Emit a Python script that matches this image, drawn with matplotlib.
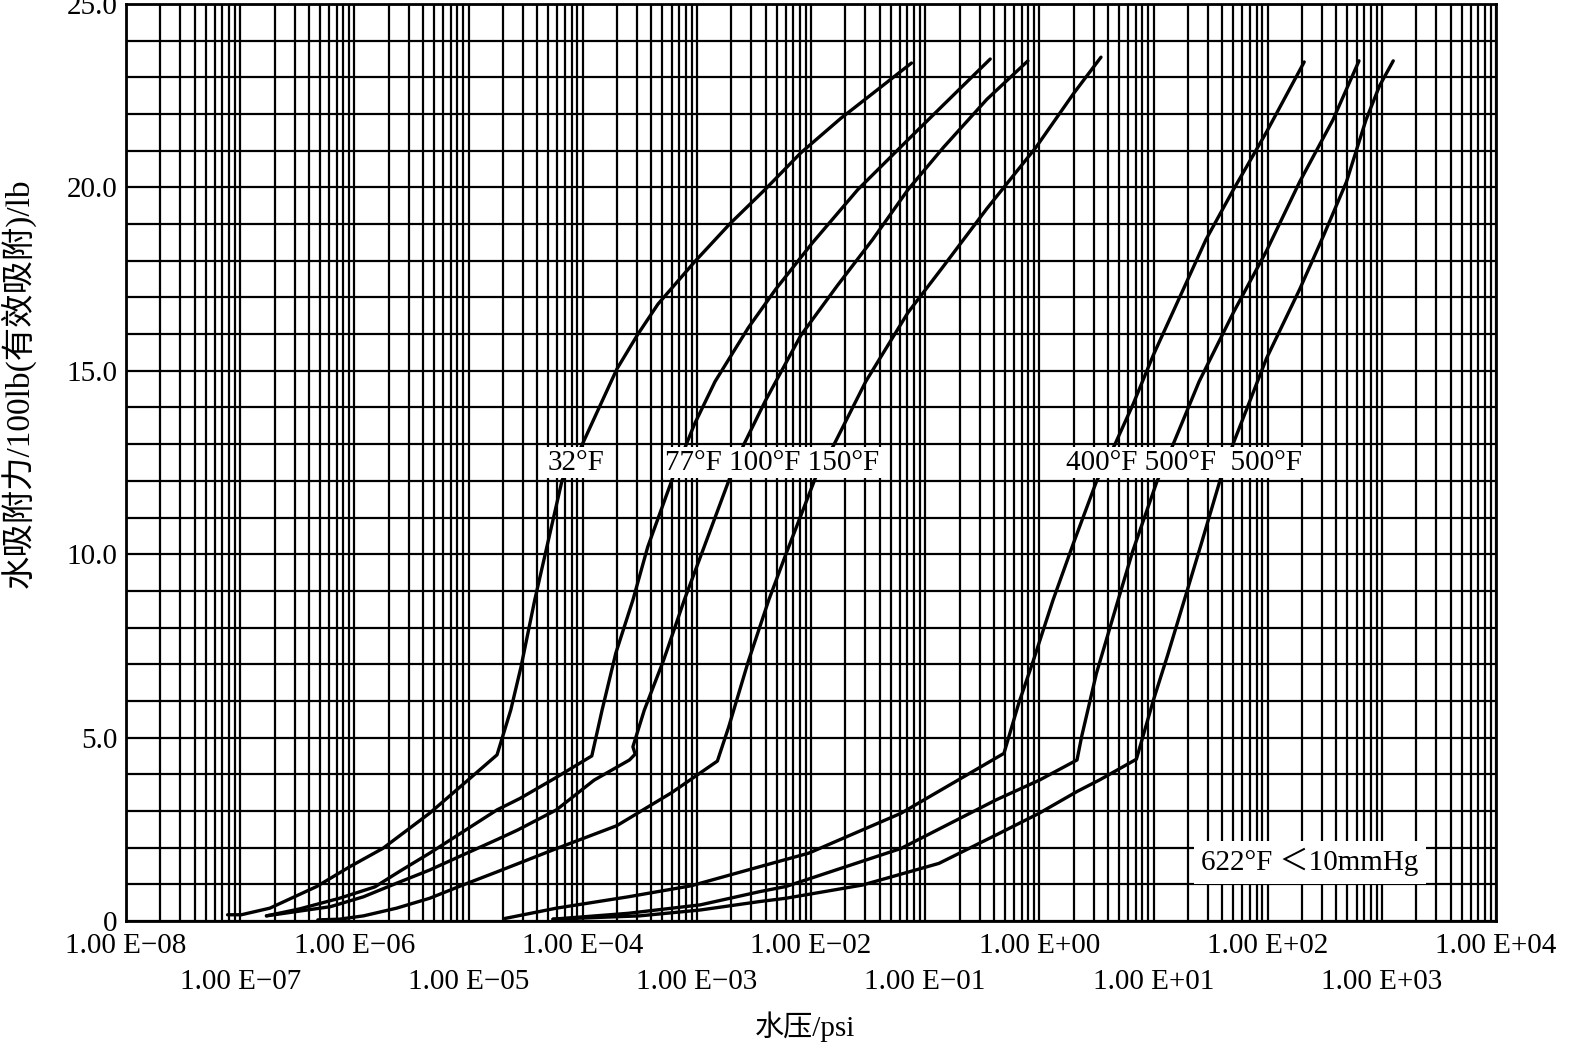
import numpy as np
import matplotlib
matplotlib.use("Agg")
import matplotlib.pyplot as plt
from matplotlib.ticker import LogLocator, MultipleLocator, NullFormatter
import matplotlib.transforms as mtransforms

plt.rcParams['font.family'] = ['Liberation Serif', 'Noto Sans CJK SC', 'DejaVu Sans']
plt.rcParams['axes.unicode_minus'] = True

# ---- data: log10(water pressure / psi) and loading (lb water / 100 lb) ----
log_p_32F = [-7.11, -6.99, -6.74, -6.33, -6.04, -5.75, -5.34, -5.02, -4.75, -4.63, -4.54,
             -4.42, -4.18, -4.02, -3.87, -3.70, -3.52, -3.34, -3.02, -2.71, -2.40, -2.09,
             -1.74, -1.46, -1.12]
w_32F = [0.17, 0.17, 0.35, 0.94, 1.48, 1.98, 2.94, 3.80, 4.53, 5.75, 6.93,
         8.75, 12.02, 12.88, 13.90, 15.05, 15.98, 16.82, 17.97, 19.01, 19.95, 20.94,
         21.88, 22.56, 23.39]

log_p_77F = [-6.77, -6.48, -6.13, -5.82, -5.60, -5.34, -5.05, -4.75, -4.55, -4.25, -3.92,
             -3.83, -3.71, -3.56, -3.43, -3.21, -3.02, -2.84, -2.55, -2.31, -1.99, -1.59,
             -1.15, -0.84, -0.43]
w_77F = [0.14, 0.33, 0.62, 0.93, 1.36, 1.85, 2.43, 3.03, 3.34, 3.88, 4.50,
         5.75, 7.30, 8.75, 10.20, 12.09, 13.55, 14.71, 16.17, 17.22, 18.48, 19.94,
         21.30, 22.25, 23.50]

log_p_100F = [-6.77, -6.48, -6.21, -5.92, -5.63, -5.34, -5.05, -4.75, -4.57, -4.23, -3.90,
              -3.59, -3.54, -3.56, -3.46, -3.29, -3.11, -2.96, -2.71, -2.59, -2.40, -2.09,
              -1.77, -1.46, -1.15, -0.84, -0.46, -0.10]
w_100F = [0.14, 0.27, 0.39, 0.66, 1.03, 1.39, 1.80, 2.22, 2.48, 3.03, 3.84,
          4.39, 4.55, 4.75, 5.75, 7.12, 8.75, 10.0, 12.09, 12.98, 14.18, 15.96,
          17.32, 18.58, 19.94, 21.09, 22.40, 23.45]

log_p_150F = [-6.32, -6.13, -5.92, -5.63, -5.34, -5.05, -4.75, -4.25, -3.70, -3.22, -2.82,
              -2.72, -2.55, -2.37, -2.22, -1.96, -1.80, -1.52, -1.15, -0.84, -0.46, -0.03,
              0.30, 0.54]
w_150F = [0.03, 0.05, 0.14, 0.35, 0.62, 0.98, 1.34, 1.95, 2.60, 3.50, 4.36,
          5.30, 7.07, 8.75, 10.0, 12.09, 12.98, 14.71, 16.59, 17.85, 19.42, 21.09,
          22.56, 23.55]

log_p_400F = [-4.68, -4.23, -3.60, -3.05, -2.45, -2.02, -1.21, -0.31, -0.18, -0.06, 0.12,
              0.30, 0.50, 0.66, 0.82, 1.00, 1.23, 1.46, 1.70, 1.99, 2.32]
w_400F = [0.07, 0.35, 0.66, 0.96, 1.48, 1.85, 2.94, 4.57, 5.94, 7.03, 8.75,
          10.31, 11.98, 12.98, 14.08, 15.44, 17.01, 18.58, 19.94, 21.51, 23.42]

log_p_500F = [-4.26, -3.60, -2.97, -2.45, -2.22, -1.21, -0.38, 0.00, 0.33, 0.37, 0.50,
              0.69, 0.82, 1.03, 1.17, 1.40, 1.70, 1.99, 2.28, 2.57, 2.80]
w_500F = [0.05, 0.21, 0.44, 0.80, 0.94, 1.98, 3.30, 3.84, 4.39, 5.02, 6.75,
          8.75, 10.10, 11.98, 12.98, 14.71, 16.59, 18.27, 20.15, 21.83, 23.45]

log_p_622F = [-4.26, -3.50, -2.97, -2.45, -2.22, -1.55, -0.88, -0.35, 0.00, 0.33, 0.53,
              0.85, 1.00, 1.12, 1.27, 1.42, 1.59, 1.70, 1.99, 2.28, 2.49, 2.69,
              2.86, 2.98, 3.10]
w_622F = [0.05, 0.14, 0.30, 0.53, 0.62, 0.98, 1.57, 2.39, 2.94, 3.53, 3.85,
          4.41, 6.03, 7.21, 8.75, 10.3, 12.09, 13.03, 15.34, 17.22, 18.69, 20.15,
          21.83, 22.77, 23.45]

curves = [(log_p_32F, w_32F), (log_p_77F, w_77F), (log_p_100F, w_100F),
          (log_p_150F, w_150F), (log_p_400F, w_400F), (log_p_500F, w_500F),
          (log_p_622F, w_622F)]

decade_exponents = list(range(-8, 5))
y_ticks = [0, 5, 10, 15, 20, 25]
y_tick_labels = ['0', '5.0', '10.0', '15.0', '20.0', '25.0']

# ---- figure ----
W, H = 1570, 1043
fig = plt.figure(figsize=(W / 100, H / 100), dpi=100)
ax = fig.add_axes([126 / W, 1 - 921 / H, (1496 - 126) / W, (921 - 4) / H])
ax.set_xscale('log')
ax.set_xlim(1e-8, 1e4)
ax.set_ylim(0, 25)

ax.xaxis.set_major_locator(LogLocator(base=10, numticks=30))
ax.xaxis.set_minor_locator(LogLocator(base=10, subs=np.arange(2, 10), numticks=300))
ax.xaxis.set_major_formatter(NullFormatter())
ax.xaxis.set_minor_formatter(NullFormatter())
ax.yaxis.set_major_locator(MultipleLocator(5))
ax.yaxis.set_minor_locator(MultipleLocator(1))
ax.set_yticks(y_ticks, labels=y_tick_labels)
ax.tick_params(which='both', length=0)
ax.tick_params(axis='y', pad=6, labelsize=21)
ax.grid(which='both', color='black', lw=1.6)
ax.set_axisbelow(True)
for s in ax.spines.values():
    s.set_linewidth(2.0)
    s.set_color('black')

for lp, w in curves:
    ax.plot(10.0 ** np.array(lp), w, color='black', lw=2.4, zorder=3,
            solid_joinstyle='round', solid_capstyle='round', clip_on=False)

# x tick labels in two staggered rows
trans = mtransforms.blended_transform_factory(ax.transData, ax.transAxes)
for e in decade_exponents:
    sign = '\u2212' if e < 0 else '+'
    lab = f"1.00 E{sign}{abs(e):02d}"
    yrow = -0.027 if e % 2 == 0 else -0.066
    ax.text(10.0 ** e, yrow, lab, transform=trans, ha='center', va='center',
            fontsize=21, clip_on=False)

box = dict(facecolor='white', edgecolor='none', boxstyle='square,pad=0.08')
ax.text(10.0 ** -4.06, 12.5, '32°F', ha='center', va='center', fontsize=21,
        bbox=box, zorder=5)
ax.text(10.0 ** -2.34, 12.5, '77°F 100°F 150°F', ha='center', va='center',
        fontsize=21, bbox=box, zorder=5)
ax.text(10.0 ** 1.27, 12.5, '400°F 500°F  500°F', ha='center', va='center',
        fontsize=21, bbox=box, zorder=5)
ax.text(10.0 ** 2.37, 1.6, '622°F ＜10mmHg', ha='center', va='center',
        fontsize=21, bbox=dict(facecolor='white', edgecolor='none',
                               boxstyle='square,pad=0.25'), zorder=5)

fig.text(18 / W, 1 - 383 / H, '水吸附力/100lb(有效吸附)/lb', rotation=90,
         ha='center', va='center', fontsize=24)
fig.text(805 / W, 1 - 1027 / H, '水压/psi', ha='center', va='center', fontsize=21)

fig.savefig('out.png', dpi=100, facecolor='white')
